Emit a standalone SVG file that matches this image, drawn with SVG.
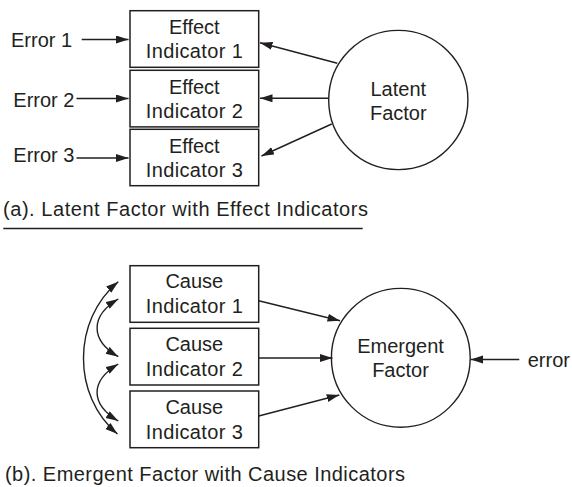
<svg xmlns="http://www.w3.org/2000/svg" width="572" height="487" viewBox="0 0 572 487">
  <style>
    text { font-family: "Liberation Sans", Arial, sans-serif; font-size: 20px; fill: #231f20; }
    .mid { text-anchor: middle; }
    .box { fill: #fff; stroke: #231f20; stroke-width: 1.5; }
    .circ { fill: #fff; stroke: #231f20; stroke-width: 1.4; }
    .edge { fill: none; stroke: #231f20; stroke-width: 1.4; marker-end: url(#head); }
    .both { fill: none; stroke: #231f20; stroke-width: 1.4; marker-start: url(#head); marker-end: url(#head); }
  </style>
  <defs>
    <marker id="head" markerUnits="userSpaceOnUse" markerWidth="14" markerHeight="9" refX="12.5" refY="4" orient="auto-start-reverse">
      <path d="M0,0 L12.5,4 L0,8 z" fill="#231f20"/>
    </marker>
  </defs>

  <rect width="572" height="487" fill="#fff"/>

  <!-- (a) latent factor with effect indicators -->
  <g id="effect1">
    <rect class="box" x="130" y="10.7" width="128.7" height="56.6"/>
    <text class="mid" x="194.3" y="34">Effect</text>
    <text class="mid" x="194.3" y="58" textLength="97" lengthAdjust="spacing">Indicator 1</text>
  </g>
  <g id="effect2">
    <rect class="box" x="130" y="70.3" width="128.7" height="56.6"/>
    <text class="mid" x="194.3" y="93.6">Effect</text>
    <text class="mid" x="194.3" y="117.6" textLength="97" lengthAdjust="spacing">Indicator 2</text>
  </g>
  <g id="effect3">
    <rect class="box" x="130" y="129.3" width="128.7" height="56.4"/>
    <text class="mid" x="194.3" y="152.5">Effect</text>
    <text class="mid" x="194.3" y="176.5" textLength="97" lengthAdjust="spacing">Indicator 3</text>
  </g>
  <g id="latent">
    <circle class="circ" cx="398.3" cy="100" r="69.6"/>
    <text class="mid" x="398.3" y="96">Latent</text>
    <text class="mid" x="398.3" y="119.5">Factor</text>
  </g>
  <g id="error1"><text x="11" y="46.7">Error 1</text></g>
  <g id="error2"><text x="13.3" y="106.5">Error 2</text></g>
  <g id="error3"><text x="13.3" y="161.7">Error 3</text></g>

  <g id="edges-a">
    <line class="edge" x1="81.7" y1="39.5" x2="128.5" y2="39.5"/>
    <line class="edge" x1="76.5" y1="98.5" x2="128.5" y2="98.5"/>
    <line class="edge" x1="76.5" y1="158" x2="128.5" y2="158"/>
    <line class="edge" x1="337.3" y1="63.3" x2="260" y2="42.7"/>
    <line class="edge" x1="328.7" y1="98.3" x2="260" y2="98.3"/>
    <line class="edge" x1="331.7" y1="124" x2="261.5" y2="156"/>
  </g>

  <g id="caption-a">
    <text x="3" y="215.7" textLength="365" lengthAdjust="spacing">(a). Latent Factor with Effect Indicators</text>
    <line x1="3.3" y1="228.5" x2="362.7" y2="228.5" stroke="#231f20" stroke-width="1.5"/>
  </g>

  <!-- (b) emergent factor with cause indicators -->
  <g id="cause1">
    <rect class="box" x="130" y="265.7" width="128.7" height="56.6"/>
    <text class="mid" x="194.3" y="288.3">Cause</text>
    <text class="mid" x="194.3" y="313.3" textLength="97" lengthAdjust="spacing">Indicator 1</text>
  </g>
  <g id="cause2">
    <rect class="box" x="130" y="328.3" width="128.7" height="56.7"/>
    <text class="mid" x="194.3" y="351">Cause</text>
    <text class="mid" x="194.3" y="376" textLength="97" lengthAdjust="spacing">Indicator 2</text>
  </g>
  <g id="cause3">
    <rect class="box" x="130" y="391" width="128.7" height="56.7"/>
    <text class="mid" x="194.3" y="413.7">Cause</text>
    <text class="mid" x="194.3" y="438.7" textLength="97" lengthAdjust="spacing">Indicator 3</text>
  </g>
  <g id="emergent">
    <circle class="circ" cx="400.8" cy="357.8" r="69.4"/>
    <text class="mid" x="400.5" y="352.7">Emergent</text>
    <text class="mid" x="400.5" y="376.7">Factor</text>
  </g>
  <g id="error"><text x="527.7" y="367">error</text></g>

  <g id="edges-b">
    <line class="edge" x1="258.7" y1="300.7" x2="340" y2="320.7"/>
    <line class="edge" x1="258.7" y1="358" x2="332.5" y2="358"/>
    <line class="edge" x1="258.7" y1="416" x2="339.3" y2="395"/>
    <line class="edge" x1="519.3" y1="359.5" x2="470.7" y2="359.5"/>
    <path class="both" d="M118.3,281.7 C72,320 72,396 117.5,434"/>
    <path class="both" d="M118.3,299 C90,316 90,340 118.3,356.7"/>
    <path class="both" d="M118.3,364 C90,381 90,404 118.3,421"/>
  </g>

  <g id="caption-b">
    <text x="5" y="481" textLength="400" lengthAdjust="spacing">(b). Emergent Factor with Cause Indicators</text>
  </g>
</svg>
